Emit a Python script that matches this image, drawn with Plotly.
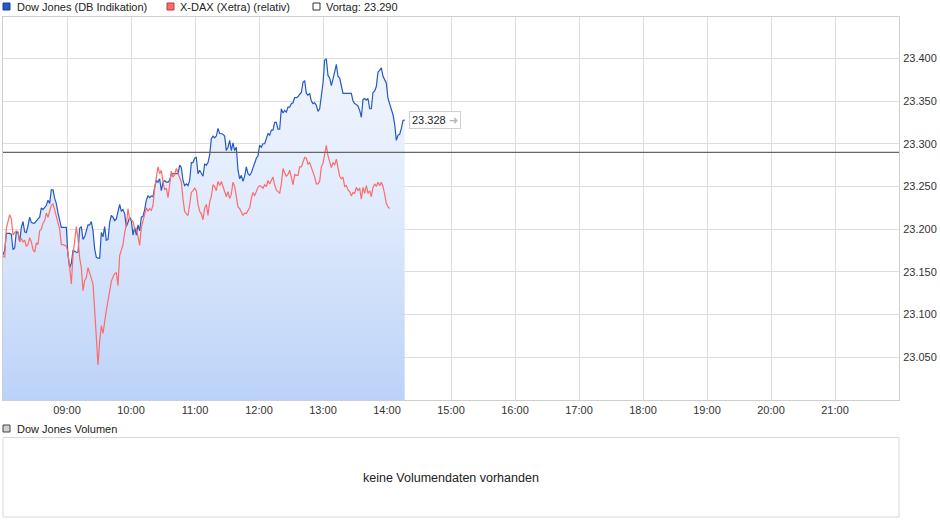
import plotly.graph_objects as go
import pandas as pd

# ---------------- data ----------------
session_day = "2020-04-07"
sample_step_seconds = 93.75  # spacing of the intraday samples

dow_values = [
    23170, 23175, 23195, 23195, 23195, 23194, 23176, 23178, 23197, 23196,
    23185, 23202, 23209, 23197, 23196, 23204, 23214, 23208, 23207, 23207,
    23210, 23212, 23214, 23225, 23223, 23225, 23228, 23234, 23230, 23246,
    23246, 23236, 23230, 23219, 23210, 23202, 23202, 23202, 23202, 23169,
    23155, 23160, 23175, 23174, 23173, 23173, 23201, 23203, 23188, 23191,
    23198, 23205, 23205, 23209, 23198, 23177, 23167, 23166, 23166, 23196,
    23191, 23203, 23187, 23188, 23208, 23216, 23214, 23210, 23212, 23223,
    23229, 23221, 23223, 23218, 23203, 23208, 23214, 23210, 23193, 23202,
    23193, 23205, 23198, 23214, 23215, 23223, 23234, 23239, 23237, 23239,
    23238, 23249, 23257, 23255, 23259, 23245, 23255, 23257, 23255, 23255,
    23257, 23265, 23265, 23265, 23265, 23265, 23275, 23272, 23257, 23251,
    23253, 23251, 23257, 23278, 23278, 23283, 23284, 23265, 23269, 23266,
    23262, 23276, 23275, 23278, 23287, 23306, 23309, 23307, 23309, 23318,
    23312, 23312, 23311, 23309, 23292, 23296, 23304, 23292, 23301, 23292,
    23296, 23269, 23259, 23263, 23256, 23262, 23273, 23265, 23263, 23266,
    23272, 23278, 23283, 23286, 23298, 23296, 23300, 23300, 23306, 23312,
    23310, 23316, 23316, 23325, 23325, 23317, 23317, 23341, 23336, 23339,
    23337, 23343, 23343, 23347, 23348, 23354, 23354, 23355, 23358, 23360,
    23372, 23374, 23359, 23357, 23359, 23350, 23347, 23348, 23345, 23338,
    23341, 23357, 23371, 23398, 23399, 23380, 23377, 23368, 23378, 23384,
    23393, 23379, 23377, 23367, 23359, 23359, 23359, 23359, 23359, 23359,
    23350, 23347, 23346, 23344, 23339, 23331, 23352, 23353, 23351, 23353,
    23341, 23341, 23360, 23362, 23367, 23384, 23386, 23389, 23379, 23374,
    23371, 23353, 23347, 23341, 23334, 23323, 23304, 23310, 23311, 23318,
    23327, 23328,
]

dax_values = [
    23169, 23167, 23201, 23208, 23217, 23212, 23193, 23196, 23198, 23197,
    23185, 23189, 23185, 23187, 23180, 23182, 23190, 23185, 23176, 23173,
    23184, 23182, 23198, 23200, 23207, 23210, 23219, 23214, 23222, 23228,
    23230, 23222, 23214, 23209, 23200, 23182, 23182, 23181, 23180, 23173,
    23154, 23136, 23169, 23187, 23203, 23189, 23166, 23155, 23128, 23140,
    23143, 23155, 23149, 23142, 23136, 23105, 23064, 23041, 23069, 23087,
    23078, 23094, 23105, 23116, 23128, 23139, 23144, 23148, 23149, 23134,
    23169, 23175, 23182, 23196, 23205, 23224, 23211, 23211, 23209, 23200,
    23201, 23191, 23181, 23202, 23210, 23219, 23225, 23221, 23224, 23222,
    23228, 23248, 23259, 23273, 23265, 23269, 23255, 23246, 23248, 23237,
    23252, 23268, 23261, 23264, 23271, 23266, 23262, 23255, 23235, 23221,
    23218, 23216, 23229, 23243, 23245, 23248, 23245, 23229, 23221, 23218,
    23211, 23225, 23229, 23216, 23232, 23238, 23252, 23250, 23245, 23256,
    23251, 23256, 23250, 23244, 23238, 23244, 23236, 23241, 23255, 23250,
    23239, 23226, 23224, 23219, 23216, 23219, 23218, 23222, 23225, 23236,
    23243, 23239, 23244, 23249, 23251, 23250, 23248, 23252, 23250, 23257,
    23253, 23258, 23261, 23252, 23246, 23244, 23242, 23253, 23271, 23266,
    23262, 23264, 23269, 23261, 23252, 23264, 23263, 23263, 23273, 23273,
    23279, 23284, 23283, 23276, 23278, 23273, 23268, 23261, 23253, 23253,
    23256, 23273, 23277, 23286, 23298, 23286, 23280, 23272, 23278, 23275,
    23282, 23273, 23262, 23259, 23261, 23250, 23251, 23246, 23244, 23239,
    23243, 23242, 23249, 23245, 23248, 23235, 23249, 23242, 23251, 23242,
    23245, 23238, 23249, 23253, 23250, 23255, 23251, 23255, 23250, 23241,
    23230, 23226, 23224,
]

previous_close = 23290
hour_labels = ["09:00", "10:00", "11:00", "12:00", "13:00", "14:00", "15:00",
               "16:00", "17:00", "18:00", "19:00", "20:00", "21:00"]
price_ticks = [23050, 23100, 23150, 23200, 23250, 23300, 23350, 23400]

legend_names = ["Dow Jones (DB Indikation)", "X-DAX (Xetra) (relativ)"]
volume_title = "Dow Jones Volumen"
volume_message = "keine Volumendaten vorhanden"

# ---------------- derived ----------------
step = pd.Timedelta(seconds=sample_step_seconds)
start = pd.Timestamp(f"{session_day} 08:00:00")
dow_times = pd.date_range(start, periods=len(dow_values), freq=step)
dax_times = pd.date_range(start, periods=len(dax_values), freq=step)
hour_vals = [f"{session_day} {h}" for h in hour_labels]


def de(v):
    return f"{v:,.0f}".replace(",", ".")


W, H = 940, 526


def px(x):
    return x / W


def py(y):
    return 1 - y / H


FONT = "Liberation Sans, Arial, sans-serif"
DOW_COLOR = "#2459c6"
DAX_COLOR = "#ff6b6b"

fig = go.Figure()

fig.add_trace(go.Scatter(
    x=dow_times, y=dow_values, mode="lines", name=legend_names[0],
    line=dict(color=DOW_COLOR, width=1.2),
    fill="tozeroy",
    fillgradient=dict(type="vertical",
                      colorscale=[[0, "#bbd2f8"], [0.55, "#dfeafc"], [1, "#f1f6fe"]],
                      start=23000, stop=23400),
    hoverinfo="skip",
))
fig.add_trace(go.Scatter(
    x=dax_times, y=dax_values, mode="lines", name=legend_names[1],
    line=dict(color=DAX_COLOR, width=1.2),
    hoverinfo="skip",
))

shapes = []
annotations = []

# previous close line
shapes.append(dict(type="line", xref="x domain", yref="y", x0=0, x1=1,
                   y0=previous_close, y1=previous_close,
                   line=dict(color="#666666", width=1.2), layer="above"))

# last value label
annotations.append(dict(
    x=dow_times[-1], y=dow_values[-1], xref="x", yref="y",
    text=f"{de(dow_values[-1])} <span style='color:#b5b5b5'>➜</span>",
    showarrow=False, xanchor="left", yanchor="middle", xshift=4,
    font=dict(family=FONT, size=11, color="#222"),
    bgcolor="white", bordercolor="#d0d0d0", borderwidth=1, borderpad=2,
))

# top legend
legend_items = [
    (3, 15, DOW_COLOR, "#1a3f8a", legend_names[0]),
    (167, 178, DAX_COLOR, "#b04040", legend_names[1]),
    (313, 324, "white", "#333", f"Vortag: {de(previous_close)}"),
]
for sx, tx, fillc, linec, txt in legend_items:
    shapes.append(dict(type="rect", xref="paper", yref="paper",
                       x0=px(sx), x1=px(sx + 7), y0=py(10), y1=py(3),
                       fillcolor=fillc, line=dict(color=linec, width=1)))
    annotations.append(dict(x=px(tx), y=py(6.5), xref="paper", yref="paper",
                            text=txt, showarrow=False, xanchor="left", yanchor="middle",
                            font=dict(family=FONT, size=11, color="#222")))

# volume panel
shapes.append(dict(type="rect", xref="paper", yref="paper",
                   x0=px(3), x1=px(10), y0=py(432), y1=py(425),
                   fillcolor="#cfcfcf", line=dict(color="#444", width=1)))
annotations.append(dict(x=px(15), y=py(428.5), xref="paper", yref="paper",
                        text=volume_title, showarrow=False, xanchor="left", yanchor="middle",
                        font=dict(family=FONT, size=11, color="#222")))
shapes.append(dict(type="rect", xref="paper", yref="paper",
                   x0=px(3), x1=px(899), y0=py(517), y1=py(437.5),
                   line=dict(color="#d9d9d9", width=1)))
annotations.append(dict(x=px(451), y=py(477.5), xref="paper", yref="paper",
                        text=volume_message, showarrow=False,
                        xanchor="center", yanchor="middle",
                        font=dict(family=FONT, size=12.5, color="#222")))

fig.update_layout(
    width=W, height=H, autosize=False,
    margin=dict(l=0, r=0, t=0, b=0),
    paper_bgcolor="white", plot_bgcolor="white",
    showlegend=False,
    separators=",.",
    font=dict(family=FONT, size=11, color="#333"),
    shapes=shapes, annotations=annotations,
    xaxis=dict(
        domain=[px(3), px(899)],
        range=[f"{session_day} 08:00", f"{session_day} 22:00"],
        tickvals=hour_vals, ticktext=hour_labels,
        showgrid=True, gridcolor="#dedede", gridwidth=1,
        showline=True, linecolor="#cfcfcf", linewidth=1, mirror=True,
        zeroline=False, ticks="", ticklabelstandoff=0,
        tickfont=dict(family=FONT, size=11, color="#333"),
    ),
    yaxis=dict(
        domain=[py(400), py(16.5)],
        range=[23000, 23449],
        side="right",
        tickvals=price_ticks, tickformat=",.0f",
        showgrid=True, gridcolor="#dedede", gridwidth=1,
        showline=True, linecolor="#cfcfcf", linewidth=1, mirror=True,
        zeroline=False, ticks="", ticklabelstandoff=1,
        tickfont=dict(family=FONT, size=11, color="#333"),
    ),
)

fig.write_html(
    "out.html",
    config={"displayModeBar": False},
    post_script="document.body.style.margin='0';document.body.style.padding='0';"
                "document.documentElement.style.overflow='hidden';",
)
